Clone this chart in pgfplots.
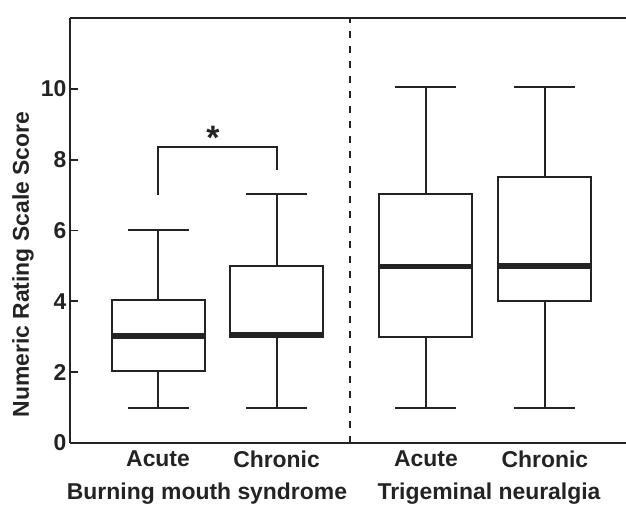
\documentclass[border=0pt]{standalone}
\usepackage{pgfplots}
\pgfplotsset{compat=1.18}
\usepgfplotslibrary{statistics}
\usepackage{fontspec}
\setmainfont{Liberation Sans}
\definecolor{ink}{RGB}{35,35,35}
\newcommand{\lbl}{\fontsize{23}{26}\selectfont\bfseries}
\begin{document}
\begin{tikzpicture}
\begin{axis}[
  at={(0,0)}, anchor=south west,
  scale only axis, width=556bp, height=425bp,
  xmin=0.257, xmax=4.949, ymin=0, ymax=12,
  axis x line*=bottom, axis y line*=left,
  axis line style={ink, line width=2bp},
  ytick={0,2,...,10},
  xtick={1,2,3.261,4.265},
  xticklabels={Acute,Chronic,Acute,Chronic},
  tick align=inside,
  major tick length=8bp,
  y tick style={ink, line width=1.8bp},
  x tick style={draw=none},
  ticklabel style={font=\lbl, text=ink},
  x tick label style={yshift=-4bp},
  /pgf/number format/assume math mode=true,
  clip=false,
  boxplot/draw direction=y,
  boxplot/every median/.style={line width=5.5bp},
]
\addplot[ink, line width=2bp, solid, boxplot prepared={draw position=1, lower whisker=1, lower quartile=2.02, median=3.02, upper quartile=4.03, upper whisker=6.02, box extend=0.785, whisker extend=0.515}] coordinates {};
\addplot[ink, line width=2bp, solid, boxplot prepared={draw position=2, lower whisker=1, lower quartile=3, median=3.06, upper quartile=5, upper whisker=7.03, box extend=0.785, whisker extend=0.515}] coordinates {};
\addplot[ink, line width=2bp, solid, boxplot prepared={draw position=3.261, lower whisker=1, lower quartile=3, median=4.98, upper quartile=7.03, upper whisker=10.05, box extend=0.785, whisker extend=0.515}] coordinates {};
\addplot[ink, line width=2bp, solid, boxplot prepared={draw position=4.265, lower whisker=1, lower quartile=4, median=5, upper quartile=7.52, upper whisker=10.05, box extend=0.785, whisker extend=0.515}] coordinates {};
\draw[ink, line width=2bp] (rel axis cs:0,1) -- (rel axis cs:1,1);
\draw[ink, line width=2bp, dash pattern=on 7bp off 8bp] (axis cs:2.62,0) -- (axis cs:2.62,12);
\draw[ink, line width=2bp] (axis cs:1,7) -- (axis cs:1,8.35) -- (axis cs:2,8.35) -- (axis cs:2,7.7);
\node[ink, anchor=north, inner sep=0pt, font=\fontsize{34}{34}\selectfont\bfseries] at (axis cs:1.464,8.95) {*};
\node[ink, anchor=base, font=\lbl] at ([yshift=-56bp]axis cs:1.413,0) {Burning mouth syndrome};
\node[ink, anchor=base, font=\lbl] at ([yshift=-56bp]axis cs:3.793,0) {Trigeminal neuralgia};
\node[ink, rotate=90, anchor=center, font=\lbl] at ([xshift=-47bp]rel axis cs:0,0.42) {Numeric Rating Scale Score};
\end{axis}
\pgfresetboundingbox
\path (-70bp,-64bp) rectangle (556bp,443bp);
\end{tikzpicture}
\end{document}
